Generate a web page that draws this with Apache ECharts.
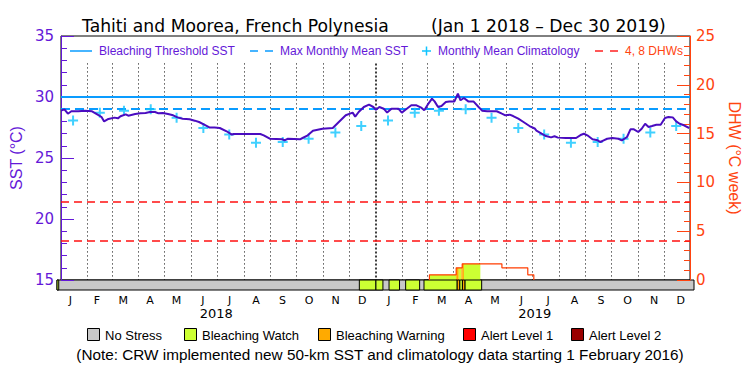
<!DOCTYPE html>
<html><head><meta charset="utf-8">
<script src="https://cdn.jsdelivr.net/npm/echarts@6/dist/echarts.min.js"></script>
<style>html,body{margin:0;padding:0;background:#fff}#c{width:750px;height:375px}</style>
</head><body><div id="c"></div>
<script>
// ---------- DATA ----------
const sstDates = ['2018-01-01','2018-01-05','2018-01-09','2018-01-13','2018-01-21','2018-01-29','2018-02-06','2018-02-12','2018-02-17','2018-02-20','2018-02-25','2018-03-04','2018-03-08','2018-03-11','2018-03-17','2018-03-20','2018-03-28','2018-04-03','2018-04-09','2018-04-14','2018-04-20','2018-04-24','2018-04-29','2018-05-05','2018-05-11','2018-05-16','2018-05-22','2018-05-30','2018-06-05','2018-06-10','2018-06-16','2018-06-22','2018-06-28','2018-07-04','2018-07-12','2018-07-18','2018-07-20','2018-08-20','2018-08-24','2018-08-31','2018-09-15','2018-09-17','2018-09-21','2018-10-05','2018-10-08','2018-10-14','2018-10-20','2018-10-31','2018-11-12','2018-11-19','2018-11-27','2018-12-05','2018-12-08','2018-12-12','2018-12-18','2018-12-24','2018-12-29','2019-01-01','2019-01-05','2019-01-10','2019-01-14','2019-01-19','2019-01-27','2019-01-31','2019-02-05','2019-02-11','2019-02-17','2019-02-23','2019-02-26','2019-03-02','2019-03-07','2019-03-10','2019-03-14','2019-03-18','2019-03-23','2019-03-27','2019-04-02','2019-04-06','2019-04-09','2019-04-13','2019-04-18','2019-04-24','2019-04-30','2019-05-04','2019-05-10','2019-05-21','2019-05-27','2019-05-31','2019-06-05','2019-06-09','2019-06-15','2019-06-21','2019-06-28','2019-07-04','2019-07-06','2019-07-12','2019-07-17','2019-07-23','2019-07-27','2019-07-31','2019-08-09','2019-08-21','2019-08-27','2019-08-30','2019-09-03','2019-09-09','2019-09-15','2019-09-18','2019-09-22','2019-09-26','2019-10-02','2019-10-09','2019-10-13','2019-10-19','2019-10-23','2019-10-27','2019-11-01','2019-11-05','2019-11-09','2019-11-13','2019-11-17','2019-11-22','2019-11-27','2019-12-02','2019-12-06','2019-12-11','2019-12-15','2019-12-19','2019-12-24','2019-12-30'];
const sstValues = [28.88,28.99,28.63,28.83,28.83,28.88,28.83,28.58,28.36,28.0,28.2,28.31,28.25,28.42,28.58,28.47,28.6,28.66,28.69,28.77,28.77,28.66,28.69,28.6,28.5,28.33,28.22,28.17,28.06,27.95,27.73,27.51,27.49,27.46,27.19,26.91,26.97,26.97,26.86,26.58,26.53,26.45,26.58,26.53,26.64,26.86,27.24,27.4,27.46,27.95,28.5,28.72,28.39,28.77,29.18,29.37,29.18,28.95,29.18,29.04,28.72,29.04,29.04,28.72,28.99,29.32,29.32,29.1,28.91,29.37,29.86,29.64,29.18,29.26,29.59,29.64,29.64,30.27,29.73,29.92,29.64,29.64,29.18,28.88,28.83,28.83,28.63,28.5,28.55,28.44,28.22,27.95,27.62,27.42,27.24,26.99,26.8,26.69,26.78,26.67,26.64,26.64,26.91,26.99,26.86,26.53,26.45,26.31,26.45,26.58,26.64,26.58,26.45,26.72,27.35,27.35,27.13,27.4,27.81,27.54,27.62,27.73,27.73,28.28,28.36,28.33,28.0,27.81,27.68,27.46];
const climDates = ['2018-01-15','2018-02-15','2018-03-15','2018-04-15','2018-05-15','2018-06-15','2018-07-15','2018-08-15','2018-09-15','2018-10-15','2018-11-15','2018-12-15','2019-01-15','2019-02-15','2019-03-15','2019-04-15','2019-05-15','2019-06-15','2019-07-15','2019-08-15','2019-09-15','2019-10-15','2019-11-15','2019-12-15'];
const climValues = [28.07,28.7,28.88,29.0,28.3,27.46,26.93,26.26,26.31,26.58,27.08,27.62,28.07,28.7,28.88,29.0,28.3,27.46,26.93,26.26,26.31,26.58,27.08,27.62];
const bleachingThreshold = 30.0;
const maxMonthlyMean = 29.0;
const dhwRefLevels = [4, 8];
const dhwDates = ['2019-03-04','2019-03-04','2019-04-04','2019-04-11','2019-05-27','2019-06-26','2019-07-03'];
const dhwValues = [0, 0.53, 1.25, 1.66, 1.25, 0.53, 0];
const stressStart = ['2018-01-01','2018-12-13','2019-01-01','2019-01-16','2019-02-04','2019-02-25','2019-04-04','2019-04-07','2019-04-10','2019-04-13'];
const stressEnd   = ['2018-01-03','2019-01-01','2019-01-09','2019-01-28','2019-02-20','2019-04-04','2019-04-07','2019-04-10','2019-04-13','2019-05-02'];
const stressLevel = [1,1,1,1,1,1,2,1,2,1];
const monthLabels = ['J','F','M','A','M','J','J','A','S','O','N','D','J','F','M','A','M','J','J','A','S','O','N','D'];
const yearLabels = ['2018','2019'];
const stressNames = ['No Stress','Bleaching Watch','Bleaching Warning','Alert Level 1','Alert Level 2'];
const stressColors = ['#c8c8c8','#ccff33','#ffaa00','#ff0000','#990000'];

// ---------- HELPERS ----------
function ts(s){const p=s.split('-').map(Number);return new Date(p[0],p[1]-1,p[2]).getTime();}
const xMin = ts('2018-01-01'), xMax = ts('2019-12-31');
const sstData = sstDates.map((d,i)=>[ts(d), sstValues[i]]);
const climData = climDates.map((d,i)=>[ts(d), climValues[i]]);
const dhwData = dhwDates.map((d,i)=>[ts(d), dhwValues[i]]);
const stressData = stressStart.map((d,i)=>[ts(d), ts(stressEnd[i]), stressLevel[i]]);
// fill under DHW coloured by stress level
const fillData = [];
stressData.forEach(s=>{
  for(let j=0;j<dhwData.length-1;j++){
    const a=Math.max(s[0],dhwData[j][0]), b=Math.min(s[1],dhwData[j+1][0]), v=dhwData[j][1];
    if(b>a && v>0) fillData.push([a,b,v,s[2]]);
  }
});
// month boundary lines
const monthLines = [];
for(let y=2018;y<=2019;y++) for(let m=0;m<12;m++){
  if(y===2018&&m===0) continue;
  const t=new Date(y,m,1).getTime();
  const yearLine = (m===0);
  monthLines.push([{coord:[t,32.75], lineStyle:{type: yearLine?[2,2]:[1,3], width: yearLine?1.5:1, color:'#000'}},{coord:[t,15]}]);
}

const PURPLE='#6418d8', LINEP='#4a0cc0', ORANGE='#ff4410', BLUE='#0a9cff', CYAN='#10c4ff';
const chart = echarts.init(document.getElementById('c'), null, {renderer:'svg'});

const g = [];
// top legend
g.push({type:'line', shape:{x1:70,y1:51,x2:92,y2:51}, style:{stroke:BLUE, lineWidth:1.5}});
g.push({type:'text', x:99, y:51, style:{text:'Bleaching Threshold SST', fill:PURPLE, font:'12px "Liberation Sans"', verticalAlign:'middle'}});
g.push({type:'line', shape:{x1:250,y1:51,x2:274,y2:51}, style:{stroke:BLUE, lineWidth:1.5, lineDash:[8,7]}});
g.push({type:'text', x:280, y:51, style:{text:'Max Monthly Mean SST', fill:PURPLE, font:'12px "Liberation Sans"', verticalAlign:'middle'}});
g.push({type:'line', shape:{x1:422,y1:51,x2:431,y2:51}, style:{stroke:CYAN, lineWidth:1.5}});
g.push({type:'line', shape:{x1:426.5,y1:46.5,x2:426.5,y2:55.5}, style:{stroke:CYAN, lineWidth:1.5}});
g.push({type:'text', x:438, y:51, style:{text:'Monthly Mean Climatology', fill:PURPLE, font:'12px "Liberation Sans"', verticalAlign:'middle'}});
g.push({type:'line', shape:{x1:595,y1:51,x2:619,y2:51}, style:{stroke:'#ff2020', lineWidth:1.5, lineDash:[8,7]}});
g.push({type:'text', x:625, y:51, style:{text:'4, 8 DHWs', fill:ORANGE, font:'12px "Liberation Sans"', verticalAlign:'middle'}});
// bottom legend
const legX = [87, 184, 318, 463, 571];
stressNames.forEach((n,i)=>{
  g.push({type:'rect', shape:{x:legX[i]+0.5,y:328.5,width:12,height:12}, style:{fill:stressColors[i], stroke:'#000', lineWidth:1}});
  g.push({type:'text', x:legX[i]+18, y:335, style:{text:n, fill:'#000', font:'13px "Liberation Sans"', verticalAlign:'middle'}});
});
g.push({type:'text', x:380, y:354, style:{text:'(Note: CRW implemented new 50-km SST and climatology data starting 1 February 2016)', fill:'#000', font:'15.3px "Liberation Sans"', align:'center', verticalAlign:'middle'}});

const option = {
  backgroundColor:'#fff',
  animation:false,
  title:[
    {text:'Tahiti and Moorea, French Polynesia', left:77, top:12, textStyle:{fontFamily:'DejaVu Sans', fontSize:17.2, fontWeight:'normal', color:'#000'}},
    {text:'(Jan 1 2018 – Dec 30 2019)', left:426, top:12, textStyle:{fontFamily:'DejaVu Sans', fontSize:17.2, fontWeight:'normal', color:'#000'}}
  ],
  grid:[
    {left:57, top:36, width:637, height:244, show:true, borderColor:'#000', borderWidth:1, backgroundColor:'transparent'},
    {left:57, top:280, width:637, height:10, show:true, borderColor:'#000', borderWidth:1, backgroundColor:stressColors[0]}
  ],
  xAxis:[
    {type:'time', gridIndex:0, min:xMin, max:xMax, show:false},
    {type:'time', gridIndex:1, min:xMin, max:xMax, show:false, position:'bottom'},
    {type:'category', gridIndex:1, data:monthLabels, position:'bottom', boundaryGap:true,
      axisLine:{show:false}, axisTick:{show:false}, splitLine:{show:false},
      axisLabel:{interval:0, margin:5, color:'#000', fontFamily:'DejaVu Sans', fontSize:11}},
    {type:'category', gridIndex:1, data:yearLabels, position:'bottom', boundaryGap:true,
      axisLine:{show:false}, axisTick:{show:false}, splitLine:{show:false},
      axisLabel:{interval:0, margin:17, color:'#000', fontFamily:'DejaVu Sans', fontSize:13}}
  ],
  yAxis:[
    {type:'value', gridIndex:0, min:15, max:35, interval:5, position:'left',
      axisLine:{show:true, lineStyle:{color:PURPLE, width:1}},
      axisTick:{show:true, inside:true, length:13, lineStyle:{color:PURPLE}},
      minorTick:{show:true, splitNumber:5, length:6, lineStyle:{color:PURPLE}},
      splitLine:{show:false},
      axisLabel:{color:PURPLE, fontFamily:'DejaVu Sans', fontSize:15, margin:7},
      name:'SST (°C)', nameLocation:'middle', nameRotate:90, nameGap:32,
      nameTextStyle:{color:PURPLE, fontFamily:'Liberation Sans', fontSize:16}},
    {type:'value', gridIndex:0, min:0, max:25, interval:5, position:'right',
      axisLine:{show:true, lineStyle:{color:ORANGE, width:1}},
      axisTick:{show:true, inside:true, length:13, lineStyle:{color:ORANGE}},
      minorTick:{show:true, splitNumber:5, length:6, lineStyle:{color:ORANGE}},
      splitLine:{show:false},
      axisLabel:{color:ORANGE, fontFamily:'DejaVu Sans', fontSize:15, margin:6},
      name:'DHW (°C week)', nameLocation:'middle', nameRotate:-90, nameGap:36,
      nameTextStyle:{color:ORANGE, fontFamily:'Liberation Sans', fontSize:16}},
    {type:'value', gridIndex:1, min:0, max:1, show:false}
  ],
  graphic:g,
  series:[
    {name:'grid lines', type:'line', xAxisIndex:0, yAxisIndex:0, data:[], silent:true,
      markLine:{silent:true, symbol:'none', z:1, label:{show:false}, animation:false,
        data: monthLines.concat([
          {yAxis:bleachingThreshold, lineStyle:{color:BLUE, type:'solid', width:2}},
          {yAxis:maxMonthlyMean, lineStyle:{color:BLUE, type:[9,5], width:2}}
        ])}},
    {name:'DHW ref', type:'line', xAxisIndex:0, yAxisIndex:1, data:[], silent:true,
      markLine:{silent:true, symbol:'none', z:1, label:{show:false}, animation:false,
        data: dhwRefLevels.map(v=>({yAxis:v, lineStyle:{color:'#ff1010', type:[8,5], width:1.5}}))}},
    {name:'DHW fill', type:'custom', xAxisIndex:0, yAxisIndex:1, data:fillData, z:2, silent:true,
      renderItem:(p,api)=>{
        const s=api.coord([api.value(0),0]), e=api.coord([api.value(1),api.value(2)]);
        return {type:'rect', shape:{x:s[0], y:e[1], width:e[0]-s[0], height:s[1]-e[1]}, style:{fill:stressColors[api.value(3)]}};
      }},
    {name:'DHW', type:'line', xAxisIndex:0, yAxisIndex:1, data:dhwData, step:'end', showSymbol:false, z:3,
      lineStyle:{color:'#ff3c00', width:1.2}},
    {name:'Monthly Mean Climatology', type:'scatter', xAxisIndex:0, yAxisIndex:0, data:climData, z:4,
      symbol:'path://M4,0H6V4H10V6H6V10H4V6H0V4H4Z', symbolSize:10, itemStyle:{color:CYAN}},
    {name:'SST', type:'line', xAxisIndex:0, yAxisIndex:0, data:sstData, showSymbol:false, z:5,
      lineStyle:{color:LINEP, width:2}},
    {name:'Stress', type:'custom', xAxisIndex:1, yAxisIndex:2, data:stressData, z:2, silent:true,
      renderItem:(p,api)=>{
        const s=api.coord([api.value(0),0]), e=api.coord([api.value(1),1]);
        return {type:'rect', shape:{x:s[0], y:e[1], width:e[0]-s[0], height:s[1]-e[1]}, style:{fill:stressColors[api.value(2)], stroke:'#000', lineWidth:1}};
      }}
  ]
};
chart.setOption(option);
</script></body></html>
